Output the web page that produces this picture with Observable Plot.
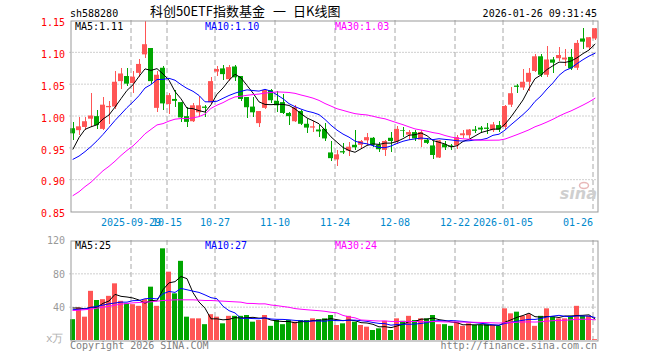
<!DOCTYPE html>
<html><head><meta charset="utf-8">
<script src="https://cdn.jsdelivr.net/npm/d3@7"></script>
<script src="https://cdn.jsdelivr.net/npm/@observablehq/plot@0.6"></script>
<style>
body{margin:0;background:#fff;}
#wrap{position:relative;width:660px;height:360px;overflow:hidden;background:#fff;}
#wrap svg{position:absolute;left:0;}
</style></head><body><div id="wrap"></div>
<script>
// ---- data ----
const dates = [
"2025-09-15","2025-09-16","2025-09-17","2025-09-18","2025-09-19","2025-09-22","2025-09-23","2025-09-24","2025-09-25","2025-09-26",
"2025-09-29","2025-09-30","2025-10-09","2025-10-10","2025-10-13","2025-10-14","2025-10-15","2025-10-16","2025-10-17","2025-10-20",
"2025-10-21","2025-10-22","2025-10-23","2025-10-24","2025-10-27","2025-10-28","2025-10-29","2025-10-30","2025-10-31","2025-11-03",
"2025-11-04","2025-11-05","2025-11-06","2025-11-07","2025-11-10","2025-11-11","2025-11-12","2025-11-13","2025-11-14","2025-11-17",
"2025-11-18","2025-11-19","2025-11-20","2025-11-21","2025-11-24","2025-11-25","2025-11-26","2025-11-27","2025-11-28","2025-12-01",
"2025-12-02","2025-12-03","2025-12-04","2025-12-05","2025-12-08","2025-12-09","2025-12-10","2025-12-11","2025-12-12","2025-12-15",
"2025-12-16","2025-12-17","2025-12-18","2025-12-19","2025-12-22","2025-12-23","2025-12-24","2025-12-25","2025-12-26","2025-12-29",
"2025-12-30","2025-12-31","2026-01-05","2026-01-06","2026-01-07","2026-01-08","2026-01-09","2026-01-12","2026-01-13","2026-01-14",
"2026-01-15","2026-01-16","2026-01-19","2026-01-20","2026-01-21","2026-01-22","2026-01-23","2026-01-26"];
const open = [0.980,0.977,0.982,0.995,0.999,0.979,1.013,1.014,1.054,1.062,
1.051,1.067,1.096,1.106,1.012,1.075,1.018,1.026,1.021,0.999,
0.991,1.005,1.014,1.021,1.069,1.074,1.057,1.077,1.062,1.029,
1.014,0.988,1.012,1.040,1.023,1.021,1.004,0.991,1.007,0.987,
0.981,0.978,0.979,0.942,0.931,0.944,0.945,0.954,0.954,0.961,
0.965,0.954,0.946,0.965,0.959,0.977,0.970,0.974,0.962,0.962,
0.953,0.934,0.955,0.953,0.953,0.969,0.969,0.978,0.981,0.981,
0.977,0.985,0.982,1.017,1.047,1.044,1.053,1.070,1.093,1.064,
1.088,1.090,1.088,1.092,1.075,1.121,1.107,1.121];
const high = [0.990,0.997,0.998,1.036,1.008,1.029,1.023,1.070,1.074,1.074,
1.070,1.088,1.149,1.106,1.070,1.078,1.036,1.040,1.021,1.013,
1.019,1.030,1.016,1.060,1.078,1.079,1.080,1.079,1.062,1.029,
1.029,1.007,1.042,1.042,1.039,1.034,1.005,1.016,1.008,0.995,
0.991,0.985,0.988,0.960,0.946,0.957,0.959,0.978,0.962,0.972,
0.966,0.959,0.961,0.974,0.984,0.982,0.978,0.977,0.977,0.964,
0.960,0.962,0.960,0.956,0.970,0.978,0.979,0.983,0.983,0.988,
0.990,0.991,1.017,1.044,1.050,1.073,1.075,1.096,1.096,1.109,
1.092,1.107,1.104,1.105,1.119,1.138,1.124,1.138];
const low = [0.962,0.969,0.977,0.982,0.979,0.978,0.987,1.010,1.042,1.047,
1.036,1.060,1.091,1.049,1.005,1.008,1.003,1.014,0.990,0.982,
0.990,0.997,0.997,1.018,1.062,1.056,1.054,1.054,1.023,0.996,
0.997,0.982,1.010,1.019,1.005,1.003,0.985,0.990,0.985,0.972,
0.974,0.967,0.960,0.928,0.920,0.939,0.936,0.946,0.947,0.953,
0.950,0.943,0.936,0.943,0.956,0.966,0.961,0.960,0.950,0.955,
0.931,0.933,0.946,0.946,0.947,0.965,0.964,0.972,0.972,0.971,
0.974,0.974,0.979,1.014,1.035,1.040,1.039,1.069,1.060,1.061,
1.067,1.086,1.078,1.071,1.071,1.105,1.103,1.119];
const close = [0.972,0.983,0.991,1.000,0.985,1.017,1.015,1.053,1.066,1.050,
1.061,1.081,1.112,1.054,1.064,1.019,1.032,1.023,0.997,0.990,
1.016,1.016,1.012,1.054,1.073,1.065,1.076,1.060,1.026,1.013,
1.005,1.007,1.040,1.024,1.016,1.004,0.999,1.013,0.987,0.981,
0.983,0.975,0.964,0.933,0.939,0.942,0.951,0.950,0.960,0.966,
0.954,0.947,0.960,0.960,0.979,0.976,0.974,0.964,0.974,0.957,
0.938,0.961,0.950,0.951,0.966,0.972,0.978,0.976,0.978,0.979,
0.986,0.978,1.015,1.035,1.045,1.053,1.067,1.093,1.064,1.088,
1.083,1.095,1.091,1.074,1.114,1.116,1.123,1.137];
const volume = [25,39,28,59,48,49,53,68,47,44,
43,41,49,64,41,110,82,56,95,28,
26,26,19,31,28,20,29,29,29,30,
22,24,30,17,24,19,24,22,24,24,
26,25,26,30,18,20,29,22,18,16,
12,14,23,12,26,23,29,24,26,26,
30,19,19,17,22,17,20,18,18,19,
18,17,38,32,34,29,31,17,29,38,
28,26,26,29,41,29,29,1];
// moving-average values at the start of the window (earlier days are off-screen)
const ma5Lead = [0.948,0.966,0.979,0.983];
const ma10Lead = [0.932,0.937,0.944,0.952,0.961,0.971,0.982,0.993,1.003];
const ma30Lead = [0.875,0.881,0.889,0.896,0.905,0.914,0.921,0.929,0.938,0.946,
0.953,0.962,0.972,0.979,0.986,0.988,0.992,0.995,0.996,0.996,
0.997,0.999,1.003,1.012,1.017,1.021,1.026,1.030,1.031];
const vma5Lead = [39,39,38,40];
const vma10Lead = [37,37.5,38,39.5,41,42.5,44,45,46];
const vma30Lead = [36,36.4,37,37.6,38.8,40,41,42.4,43.6,44.4,
45.2,45.6,46,46.4,47.2,48,48.4,48.8,48.8,48.8,
48.8,48.4,48,48,47.6,47.2,46.8,46.4,46];
const tickIdx = [10,16,24,34,44,54,64,72,87];
const tickLabels = ["2025-09-29","10-15","10-27","11-10","11-24","12-08","12-22","2026-01-05","01-26"];
const priceTicks = [0.85,0.90,0.95,1.00,1.05,1.10,1.15];
const volTicks = [40,80,120];
const codeText = "sh588280";
const titleParts = ["科创50ETF指数基金","一","日K线图"];
const stampText = "2026-01-26 09:31:45";
const maPriceLabels = ["MA5:1.11","MA10:1.10","MA30:1.03"];
const maVolLabels = ["MA5:25","MA10:27","MA30:24"];
const footLeft = "Copyright 2026 SINA.COM";
const footRight = "http://finance.sina.com.cn";
const volUnit = "x万";

// ---- build ----
const RED = "#ff5555", GREEN = "#00a600";
const MA_COLORS = ["#000000","#0000ff","#ff00ff"];
function movingAvg(vals, k, lead){
  return vals.map((v,i)=> i < k-1 ? lead[i] : d3.mean(vals.slice(i-k+1, i+1)));
}
const ma5 = movingAvg(close,5,ma5Lead), ma10 = movingAvg(close,10,ma10Lead), ma30 = movingAvg(close,30,ma30Lead);
const vma5 = movingAvg(volume,5,vma5Lead), vma10 = movingAvg(volume,10,vma10Lead), vma30 = movingAvg(volume,30,vma30Lead);
const rows = dates.map((d,i)=>({i, date:d, o:open[i], h:high[i], l:low[i], c:close[i], v:volume[i],
  col: close[i] >= open[i] ? RED : GREEN,
  ma5:ma5[i], ma10:ma10[i], ma30:ma30[i], vma5:vma5[i], vma10:vma10[i], vma30:vma30[i]}));

const HALF = 5/12; // body half-width in candle units (5px of 6px)
const FONT = "DejaVu Sans Mono";
const common = {
  width:660, marginLeft:69.5, marginRight:62.5,
  x:{domain:[-0.5, 87.5], axis:null},
  color:{type:"identity"},
  style:{fontFamily:FONT, fontSize:"10px", background:"transparent"}
};
const gridX = d => d - 1/3;

const pricePlot = Plot.plot({
  ...common, height:232, marginTop:20, marginBottom:21,
  y:{domain:[0.85,1.15], axis:null},
  marks:[
    Plot.ruleY(priceTicks.slice(1,-1), {y:d=>d, stroke:"#a0a0a0", strokeDasharray:"1,2"}),
    Plot.ruleX(tickIdx, {x:gridX, stroke:"#a8a8a8", strokeDasharray:"5,3"}),
    Plot.ruleX(rows, {x:"i", y1:"l", y2:"h", stroke:"col", strokeWidth:1, shapeRendering:"crispEdges"}),
    Plot.rect(rows, {x1:d=>d.i-HALF, x2:d=>d.i+HALF, y1:"o", y2:"c", fill:"col"}),
    Plot.line(rows, {x:"i", y:"ma5", stroke:MA_COLORS[0], strokeWidth:1}),
    Plot.line(rows, {x:"i", y:"ma10", stroke:MA_COLORS[1], strokeWidth:1}),
    Plot.line(rows, {x:"i", y:"ma30", stroke:MA_COLORS[2], strokeWidth:1}),
    Plot.frame({stroke:"#999", insetLeft:1, insetTop:0.5, insetBottom:-0.5}),
    Plot.text(priceTicks, {y:d=>d, frameAnchor:"left", dx:-5, dy:2.5, textAnchor:"end",
      text:d=>d.toFixed(2), fill:"#ff0000", fontSize:10}),
    Plot.text(tickIdx.slice(0,-1), {x:gridX, frameAnchor:"bottom", lineAnchor:"top", dy:7,
      text:(d,i)=>tickLabels[i], fill:"#0088cc", fontSize:10}),
    Plot.text(tickIdx.slice(-1), {x:gridX, frameAnchor:"bottom", lineAnchor:"top", dy:7, textAnchor:"end",
      text:()=>tickLabels[tickLabels.length-1], fill:"#0088cc", fontSize:10})
  ]
});
pricePlot.style.top = "0px";

const volPlot = Plot.plot({
  ...common, height:128, marginTop:8, marginBottom:20,
  y:{domain:[0,120], axis:null},
  marks:[
    Plot.ruleY([40,80], {y:d=>d, stroke:"#a0a0a0", strokeDasharray:"1,2"}),
    Plot.ruleX(tickIdx, {x:gridX, stroke:"#a8a8a8", strokeDasharray:"5,3"}),
    Plot.rect(rows, {x1:d=>d.i-HALF, x2:d=>d.i+HALF, y1:0, y2:"v", fill:"col"}),
    Plot.line(rows, {x:"i", y:"vma5", stroke:MA_COLORS[0], strokeWidth:1}),
    Plot.line(rows, {x:"i", y:"vma10", stroke:MA_COLORS[1], strokeWidth:1}),
    Plot.line(rows, {x:"i", y:"vma30", stroke:MA_COLORS[2], strokeWidth:1}),
    Plot.frame({stroke:"#999", insetLeft:1, insetTop:0.5, insetBottom:-0.5}),
    Plot.text(volTicks, {y:d=>d, frameAnchor:"left", dx:-5, dy:0.5, textAnchor:"end",
      text:d=>String(d), fill:"#999", fontSize:10})
  ]
});
volPlot.style.top = "232px";

const wrap = document.getElementById("wrap");
wrap.appendChild(pricePlot);
wrap.appendChild(volPlot);

// ---- text overlay ----
const ov = d3.select(wrap).append("svg")
  .attr("width",660).attr("height",360)
  .style("top","0px").style("pointer-events","none")
  .attr("font-family",FONT).attr("font-size",10);
function txt(x,y,s,fill,anchor,extra){
  const t = ov.append("text").attr("x",x).attr("y",y).attr("fill",fill||"#000")
    .attr("text-anchor",anchor||"start").text(s);
  if (extra) for (const k in extra) t.attr(k, extra[k]);
  return t;
}
txt(70,16.5,codeText,"#000");
const cjk = {"font-family":"'Noto Sans CJK SC', sans-serif","font-size":13};
txt(150,15.5,titleParts[0],"#000","start",cjk);
txt(273,15.5,titleParts[1],"#000","start",cjk);
txt(293,15.5,titleParts[2],"#000","start",cjk);
txt(597,16.5,stampText,"#000","end");
const labX = [75,205,335];
maPriceLabels.forEach((s,k)=>txt(labX[k],30,s,MA_COLORS[k]));
maVolLabels.forEach((s,k)=>txt(labX[k],249,s,MA_COLORS[k]));
txt(70,348.5,footLeft,"#808080");
txt(597,348.5,footRight,"#808080","end");
txt(63.5,342,volUnit,"#b0b0b0","end",{"font-size":11});
// sina watermark
txt(597,199,"sina","#cfcfcf","end",{"font-family":"DejaVu Sans","font-size":16,"font-style":"italic","font-weight":"bold"});
ov.append("ellipse").attr("cx",584).attr("cy",185.5).attr("rx",4.5).attr("ry",3)
  .attr("fill","none").attr("stroke","#e8b8b8").attr("stroke-width",1.5);
</script>
</body></html>
